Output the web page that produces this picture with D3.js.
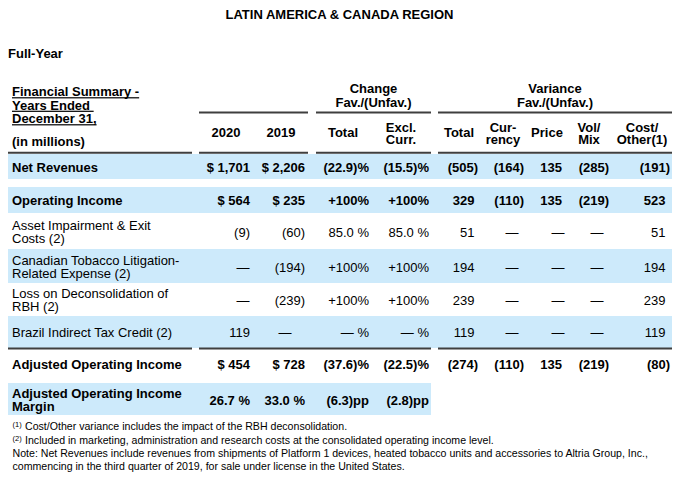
<!DOCTYPE html>
<html><head><meta charset="utf-8">
<script src="https://cdn.jsdelivr.net/npm/d3@7"></script>
<style>body{margin:0;background:#fff} svg{display:block;font-family:"Liberation Sans",Arial,Helvetica,sans-serif}</style>
</head><body><svg id="c" width="680" height="487"></svg>
<script>
// ---------- DATA ----------
const title = "LATIN AMERICA & CANADA REGION";
const subtitle = "Full-Year";
const headerLeft = ["Financial Summary -", "Years Ended ", "December 31,"];
const unitsLabel = "(in millions)";
const groupHeaders = [["Change", "Fav./(Unfav.)"], ["Variance", "Fav./(Unfav.)"]];
const columnHeaders = [["2020"], ["2019"], ["Total"], ["Excl.", "Curr."], ["Total"], ["Cur-", "rency"], ["Price"], ["Vol/", "Mix"], ["Cost/", "Other(1)"]];
const rowLabels = [
  ["Net Revenues"],
  ["Operating Income"],
  ["Asset Impairment & Exit", "Costs (2)"],
  ["Canadian Tobacco Litigation-", "Related Expense (2)"],
  ["Loss on Deconsolidation of", "RBH (2)"],
  ["Brazil Indirect Tax Credit (2)"],
  ["Adjusted Operating Income"],
  ["Adjusted Operating Income", "Margin"]
];
const v2020 = ["$ 1,701", "$ 564", "(9)", "—", "—", "119", "$ 454", "26.7 %"];
const v2019 = ["$ 2,206", "$ 235", "(60)", "(194)", "(239)", "—", "$ 728", "33.0 %"];
const chgTotal = ["(22.9)%", "+100%", "85.0 %", "+100%", "+100%", "— %", "(37.6)%", "(6.3)pp"];
const chgExcl = ["(15.5)%", "+100%", "85.0 %", "+100%", "+100%", "— %", "(22.5)%", "(2.8)pp"];
const varTotal = ["(505)", "329", "51", "194", "239", "119", "(274)", ""];
const varCurrency = ["(164)", "(110)", "—", "—", "—", "—", "(110)", ""];
const varPrice = ["135", "135", "—", "—", "—", "—", "135", ""];
const varVolMix = ["(285)", "(219)", "—", "—", "—", "—", "(219)", ""];
const varCostOther = ["(191)", "523", "51", "194", "239", "119", "(80)", ""];
const boldRows = [true, true, false, false, false, false, true, true];
const footnotes = [
  ["(1)", "Cost/Other variance includes the impact of the RBH deconsolidation."],
  ["(2)", "Included in marketing, administration and research costs at the consolidated operating income level."]
];
const noteLines = [
  "Note: Net Revenues include revenues from shipments of Platform 1 devices, heated tobacco units and accessories to Altria Group, Inc.,",
  "commencing in the third quarter of 2019, for sale under license in the United States."
];

// ---------- LAYOUT ----------
const W = 680, H = 487;
const blue = "#cdeafb", rule = "#3f3f3f", ink = "#000";
const svg = d3.select("#c");
svg.append("rect").attr("width", W).attr("height", H).attr("fill", "#fff");

const columns = [
  {vals: v2020, hx: 226, r: 250, hang: 0, dash: 243},
  {vals: v2019, hx: 281, r: 305, hang: 0, dash: 285},
  {vals: chgTotal, hx: 343, r: 369, hang: 0},
  {vals: chgExcl, hx: 401, r: 429, hang: 0},
  {vals: varTotal, hx: 459, r: 478, hang: 3.5},
  {vals: varCurrency, hx: 503, r: 524, hang: 3.5, dash: 512},
  {vals: varPrice, hx: 547, r: 562, hang: 0, dash: 558},
  {vals: varVolMix, hx: 589, r: 609, hang: 3.5, dash: 597},
  {vals: varCostOther, hx: 642, r: 670, hang: 4.5}
];
const rowBands = [[154,179],[187,213],[213,249],[249,283],[283,316],[316,348],[349,378],[383,415]];
const rowShaded = [true, true, false, true, false, true, false, true];
const shadeRight = [672, 672, 672, 672, 672, 672, 672, 431];

// title
svg.append("text").attr("x", 339.5).attr("y", 18.5).attr("text-anchor", "middle")
  .attr("font-size", 13).attr("font-weight", "bold").attr("fill", ink).text(title);
svg.append("text").attr("x", 8).attr("y", 58.3).attr("font-size", 13).attr("font-weight", "bold").attr("fill", ink).text(subtitle);

// row backgrounds
rowBands.forEach((b, i) => {
  if (rowShaded[i]) svg.append("rect").attr("x", 8).attr("y", b[0]).attr("width", shadeRight[i] - 8)
    .attr("height", b[1] - b[0]).attr("fill", blue);
});

// header left
const hl = svg.append("g").attr("font-size", 13).attr("font-weight", "bold").attr("fill", ink);
[96, 109.5, 123].forEach((y, i) => {
  const t = hl.append("text").attr("x", 12).attr("y", y).attr("xml:space", "preserve").style("white-space", "pre").text(headerLeft[i]);
  const w = t.node().getComputedTextLength();
  hl.append("rect").attr("x", 12).attr("y", y + 1.2).attr("width", w).attr("height", 1.2).attr("fill", ink);
});
hl.append("text").attr("x", 12).attr("y", 146).text(unitsLabel);

// group headers
const gh = svg.append("g").attr("font-size", 13).attr("font-weight", "bold").attr("fill", ink).attr("text-anchor", "middle");
[373.5, 555].forEach((cx, i) => {
  gh.append("text").attr("x", cx).attr("y", 93.3).text(groupHeaders[i][0]);
  gh.append("text").attr("x", cx).attr("y", 106.6).text(groupHeaders[i][1]);
});

// column headers
columns.forEach((c, i) => {
  const lines = columnHeaders[i];
  const ys = lines.length === 1 ? [136.8] : [131.8, 143.6];
  lines.forEach((l, j) => gh.append("text").attr("x", c.hx).attr("y", ys[j]).text(l));
});

// rules
function seg(y, segs, sw) {
  segs.forEach(s => svg.append("line").attr("x1", s[0]).attr("x2", s[1]).attr("y1", y).attr("y2", y)
    .attr("stroke", rule).attr("stroke-width", sw));
}
seg(112.5, [[199,308],[316,431],[438,672]], 2);
seg(152.8, [[8,192],[199,308],[316,431],[438,672]], 2);
seg(348.6, [[8,192],[199,431],[438,672]], 2);

// rows
const body = svg.append("g").attr("font-size", 13).attr("fill", ink);
rowLabels.forEach((lines, i) => {
  const [t0, t1] = rowBands[i];
  const c = (t0 + t1) / 2 + 0.8;
  const fw = boldRows[i] ? "bold" : "normal";
  const lead = 13;
  const firstBase = c + 4.65 - (lines.length - 1) * lead / 2;
  lines.forEach((l, j) => body.append("text").attr("x", 12).attr("y", firstBase + j * lead)
    .attr("font-weight", fw).text(l));
  const vb = c + 4.65 + (lines.length > 1 ? 0.5 : 0);
  columns.forEach(col => {
    const v = col.vals[i];
    if (!v) return;
    const t = body.append("text").attr("y", vb).attr("font-weight", fw).text(v);
    if (v === "—" && col.dash !== undefined) {
      t.attr("x", col.dash).attr("text-anchor", "middle");
    } else {
      const endsParen = /\)$/.test(v);
      t.attr("x", endsParen ? col.r : col.r - col.hang).attr("text-anchor", "end");
    }
  });
});

// footnotes
const fn = svg.append("g").attr("fill", ink);
[429.8, 443.5].forEach((y, i) => {
  fn.append("text").attr("x", 12.5).attr("y", y - 3).attr("font-size", 7.5).text(footnotes[i][0]);
  fn.append("text").attr("x", 25).attr("y", y).attr("font-size", 10.6).text(footnotes[i][1]);
});
[456.6, 470].forEach((y, i) => {
  fn.append("text").attr("x", 12.5).attr("y", y).attr("font-size", 10.6).text(noteLines[i]);
});
</script></body></html>
